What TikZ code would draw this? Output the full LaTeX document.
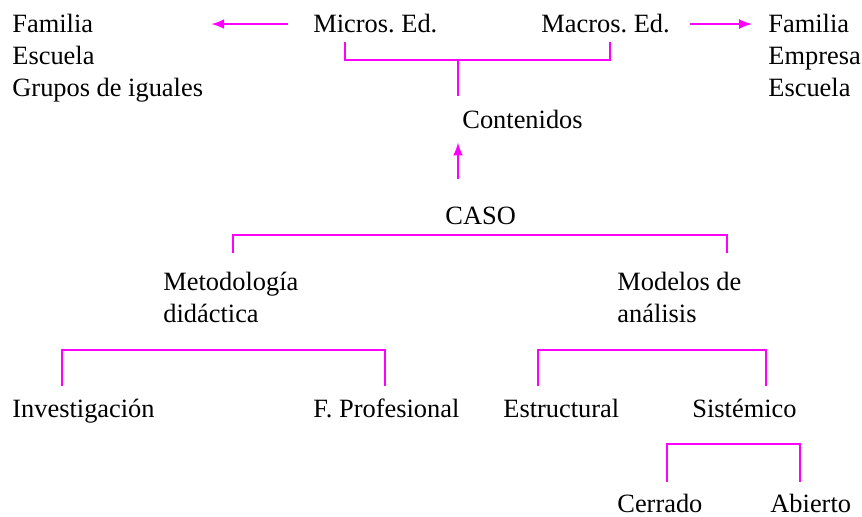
\documentclass[tikz,border=0pt]{standalone}
\usepackage{fontspec}
\setmainfont{Liberation Serif}
\usetikzlibrary{arrows, positioning}
\definecolor{linkpink}{RGB}{255,0,255}

\begin{document}
\frenchspacing
\begin{tikzpicture}[
    x=0.5pt, y=-0.5pt,
    label/.style={inner sep=0pt, anchor=base west, align=left, font=\fontsize{13.2}{16}\selectfont},
    link/.style={linkpink, line width=1.2pt},
    arrow/.style={link, -latex}
]
\useasboundingbox (0,0) rectangle (862,517);

% Nodes (multi-line nodes sit on their last line)
\node[label] (grupos) at (12,97) {Familia\\Escuela\\Grupos de iguales};
\node[label] (micros) at (313,33) {Micros. Ed.};
\node[label] (macros) at (541,33) {Macros. Ed.};
\node[label] (empresa) at (768,97) {Familia\\Empresa\\Escuela};
\node[label] (contenidos) at (462,129) {Contenidos};
\node[label] (caso) at (445,225) {CASO};
\node[label] (metodologia) at (163,323) {Metodología\\didáctica};
\node[label] (modelos) at (617,323) {Modelos de\\análisis};
\node[label] (investigacion) at (12,418) {Investigación};
\node[label] (profesional) at (313,418) {F. Profesional};
\node[label] (estructural) at (503,418) {Estructural};
\node[label] (sistemico) at (692,418) {Sistémico};
\node[label] (cerrado) at (617,513) {Cerrado};
\node[label] (abierto) at (770,513) {Abierto};

% Bracket ends
\coordinate (microsLeg) at (345,42);
\coordinate (macrosLeg) at (610,42);
\coordinate (join) at (458,60);
\coordinate (metoLeg) at (233,253);
\coordinate (modeLeg) at (727,253);
\coordinate (investLeg) at (62,386);
\coordinate (profLeg) at (385,386);
\coordinate (estrLeg) at (538,386);
\coordinate (sistLeg) at (766,386);
\coordinate (cerrLeg) at (667,482);
\coordinate (abiLeg) at (800,482);

% Arrows
\draw[arrow, shorten <=12.5pt, shorten >=4pt] (micros.west) -- (grupos.east |- micros.west);
\draw[arrow, shorten <=10pt, shorten >=8pt] (macros.east) -- (empresa.west |- macros.east);
\draw[arrow, shorten <=14pt, shorten >=6.5pt] (caso.north -| join) -- (contenidos.south -| join);

% Brackets
\draw[link] (microsLeg) -- ++(0,18) -| (macrosLeg);
\draw[link, shorten >=7pt] (join) -- (contenidos.north -| join);
\draw[link] (metoLeg) -- ++(0,-18) -| (modeLeg);
\draw[link] (investLeg) -- ++(0,-36) -| (profLeg);
\draw[link] (estrLeg) -- ++(0,-36) -| (sistLeg);
\draw[link] (cerrLeg) -- ++(0,-38) -| (abiLeg);

\end{tikzpicture}
\end{document}
